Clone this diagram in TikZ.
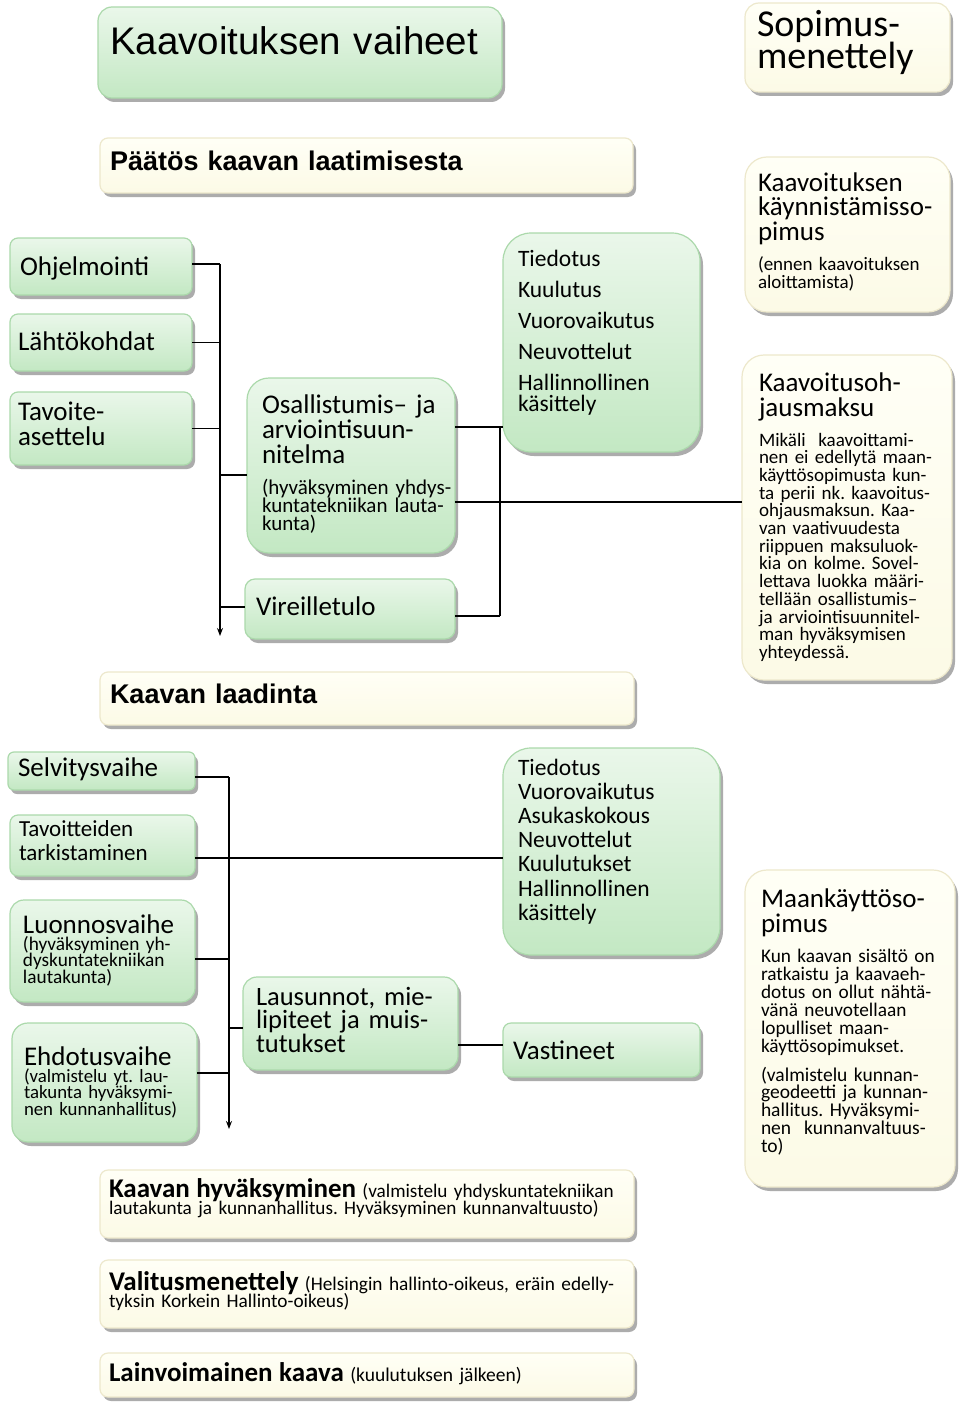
\documentclass[tikz,border=0pt]{standalone}
\usepackage{fontspec}
\setmainfont{Carlito}
\newfontfamily\arialf{Liberation Sans}
\usetikzlibrary{shadows,arrows.meta}
\frenchspacing
\definecolor{gtop}{HTML}{EAF7EA}
\definecolor{gbot}{HTML}{C3E8C3}
\definecolor{gbrd}{HTML}{ABD9AB}
\definecolor{ctop}{HTML}{FFFFF6}
\definecolor{cbot}{HTML}{FCFAE6}
\definecolor{cbrd}{HTML}{EDE8CC}
\definecolor{shd}{HTML}{8A8A8A}
\newcommand\fs[2]{\fontsize{#1}{#2}\selectfont}
\newcommand\bx[7]{\node[#1, rounded corners=#7, anchor=north west, minimum width={#5pt-#3pt}, minimum height={#6pt-#4pt}] (#2) at (#3,#4) {};}
\tikzset{
 boxbase/.style={inner sep=0pt, outer sep=0pt, line width=1.2pt, drop shadow={shadow xshift=3pt, shadow yshift=-4pt, fill=shd, opacity=0.7}},
 gbox/.style={boxbase, draw=gbrd, top color=gtop, bottom color=gbot},
 cbox/.style={boxbase, draw=cbrd, top color=ctop, bottom color=cbot},
 txt/.style={inner sep=0pt, outer sep=0pt, anchor=base west, text width=600pt,
   execute at begin node={\frenchspacing\lineskiplimit=-100pt\lineskip=0pt}},
 ln/.style={line width=1.5pt, draw=black},
 arr/.style={ln, -{Stealth[length=8pt,width=6pt]}},
}
\begin{document}
\begin{tikzpicture}[x=1pt,y=-1pt]
\useasboundingbox[fill=white] (0,0) rectangle (960,1407);
% ---------- boxes ----------
\bx{gbox}{title}{98}{7}{502}{98}{14pt}
\bx{cbox}{sopim}{745}{3}{950}{92}{14pt}
\bx{cbox}{paatos}{100}{138}{633}{193}{8pt}
\bx{cbox}{kaynn}{745}{157}{950}{312}{22pt}
\bx{gbox}{ohj}{10}{238}{192}{295}{8pt}
\bx{gbox}{lahto}{10}{314}{192}{371}{8pt}
\bx{gbox}{tavoite}{10}{392}{192}{465}{8pt}
\bx{gbox}{tied1}{503}{233}{700}{452}{28pt}
\bx{gbox}{osall}{247}{378}{455}{553}{22pt}
\bx{gbox}{vir}{245}{579}{455}{639}{10pt}
\bx{cbox}{maksu}{742}{355}{952}{680}{22pt}
\bx{cbox}{laadinta}{100}{672}{634}{725}{8pt}
\bx{gbox}{selv}{8}{752}{195}{790}{6pt}
\bx{gbox}{tavt}{10}{815}{195}{876}{8pt}
\bx{gbox}{luon}{10}{900}{195}{1002}{14pt}
\bx{gbox}{ehd}{12}{1023}{197}{1142}{16pt}
\bx{gbox}{tied2}{503}{748}{720}{955}{28pt}
\bx{gbox}{laus}{243}{977}{458}{1070}{14pt}
\bx{gbox}{vast}{503}{1023}{700}{1077}{8pt}
\bx{cbox}{maank}{745}{870}{955}{1187}{22pt}
\bx{cbox}{hyv}{100}{1170}{634}{1238}{8pt}
\bx{cbox}{valit}{100}{1260}{634}{1328}{8pt}
\bx{cbox}{lainv}{100}{1353}{634}{1397}{8pt}
% ---------- texts ----------
\node[txt, font={\arialf\fs{38.5}{44}}] (t-title) at (110,55) {Kaavoituksen vaiheet};
\node[txt, font={\fs{38}{32}}] (t-sopim) at (757,37) {Sopimus-\\menettely};
\node[txt, font={\arialf\bfseries\fs{27}{30}}] (t-paatos) at (110,171) {Päätös kaavan laatimisesta};
\node[txt, font={\fs{27}{24.5}}] (t-kaynn) at (758,191) {Kaavoituksen\\käynnistämisso-\\pimus};
\node[txt, font={\fs{19}{18}}] (t-kaynn2) at (758,270) {(ennen kaavoituksen\\aloittamista)};
\node[txt, font={\fs{27}{26}}] (t-ohj) at (20,275) {Ohjelmointi};
\node[txt, font={\fs{27}{26}}] (t-lahto) at (18,350) {Lähtökohdat};
\node[txt, font={\fs{27}{25}}] (t-tavoite) at (18,420) {Tavoite-\\asettelu};
\node[txt, font={\fs{23.5}{21}}] (t-tied1) at (518,266) {Tiedotus\\[10pt]Kuulutus\\[10pt]Vuorovaikutus\\[10pt]Neuvottelut\\[10pt]Hallinnollinen\\käsittely};
\node[txt, font={\fs{27}{25}}] (t-osall) at (262,413) {Osallistumis– ja\\arviointisuun-\\nitelma};
\node[txt, font={\fs{21}{18}}] (t-osall2) at (262,494) {(hyväksyminen yhdys-\\kuntatekniikan lauta-\\kunta)};
\node[txt, font={\fs{27}{26}}] (t-vir) at (256,615) {Vireilletulo};
\node[txt, font={\fs{27}{25}}] (t-maksu) at (759,391) {Kaavoitusoh-\\jausmaksu};
\node[txt, font={\fs{19}{17.7}}] (t-maksu2) at (759,446) {Mikäli\ \ kaavoittami-\\nen ei edellytä maan-\\käyttösopimusta kun-\\ta perii nk. kaavoitus-\\ohjausmaksun. Kaa-\\van vaativuudesta\\riippuen maksuluok-\\kia on kolme. Sovel-\\lettava luokka määri-\\tellään osallistumis–\\ja arviointisuunnitel-\\man hyväksymisen\\yhteydessä.};
\node[txt, font={\arialf\bfseries\fs{27}{30}}] (t-laadinta) at (110,703) {Kaavan laadinta};
\node[txt, font={\fs{27}{25}}] (t-selv) at (18,776) {Selvitysvaihe};
\node[txt, font={\fs{23}{24}}] (t-tavt) at (19,836) {Tavoitteiden\\tarkistaminen};
\node[txt, font={\fs{27}{26}}] (t-luon) at (23,933) {Luonnosvaihe};
\node[txt, font={\fs{19.3}{16.5}}] (t-luon2) at (23,950) {(hyväksyminen yh-\\dyskuntatekniikan\\lautakunta)};
\node[txt, font={\fs{27}{26}}] (t-ehd) at (24,1065) {Ehdotusvaihe};
\node[txt, font={\fs{18.8}{16.5}}] (t-ehd2) at (24,1082) {(valmistelu yt. lau-\\takunta hyväksymi-\\nen kunnanhallitus)};
\node[txt, font={\fs{23.5}{24.2}}] (t-tied2) at (518,775) {Tiedotus\\Vuorovaikutus\\Asukaskokous\\Neuvottelut\\Kuulutukset\\Hallinnollinen\\käsittely};
\node[txt, font={\fs{26.5}{23.5}}] (t-laus) at (256,1005) {Lausunnot, mie-\\lipiteet ja muis-\\tutukset};
\node[txt, font={\fs{27}{26}}] (t-vast) at (513,1059) {Vastineet};
\node[txt, font={\fs{27}{25}}] (t-maank) at (761,907) {Maankäyttöso-\\pimus};
\node[txt, font={\fs{19.3}{18}}] (t-maank2) at (761,962) {Kun kaavan sisältö on\\ratkaistu ja kaavaeh-\\dotus on ollut nähtä-\\vänä neuvotellaan\\lopulliset maan-\\käyttösopimukset.};
\node[txt, font={\fs{19.5}{17.8}}] (t-maank3) at (761,1081) {(valmistelu kunnan-\\geodeetti ja kunnan-\\hallitus. Hyväksymi-\\nen\ \ kunnanvaltuus-\\to)};
\node[txt, font={\fs{19.2}{17.5}}] (t-hyv) at (109,1197) {{\bfseries\fs{27}{17.5}Kaavan hyväksyminen} (valmistelu yhdyskuntatekniikan\\lautakunta ja kunnanhallitus. Hyväksyminen kunnanvaltuusto)};
\node[txt, font={\fs{19.3}{17.5}}] (t-valit) at (109,1290) {{\bfseries\fs{27}{17.5}Valitusmenettely} (Helsingin hallinto-oikeus, eräin edelly-\\tyksin Korkein Hallinto-oikeus)};
\node[txt, font={\fs{19.5}{17.5}}] (t-lainv) at (109,1381) {{\bfseries\fs{27}{17.5}Lainvoimainen kaava} (kuulutuksen jälkeen)};
% ---------- connectors ----------
\coordinate (busA) at (220,264);
\coordinate (busAend) at (220,636);
\draw[ln] (ohj.east |- busA) -- (busA);
\draw[ln] (lahto.east) -- (lahto.east -| busA);
\draw[ln] (tavoite.east) -- (tavoite.east -| busA);
\draw[arr] (busA) -- (busAend);
\coordinate (osIn) at (220,475);
\draw[ln] (osIn) -- (osall.west |- osIn);
\coordinate (virIn) at (220,607);
\draw[ln] (virIn) -- (vir.west |- virIn);
\coordinate (busB) at (500,427);
\coordinate (busBend) at (500,616);
\draw[ln] (osall.east |- busB) -- (tied1.west |- busB);
\draw[ln] (busB) -- (busBend);
\draw[ln] (vir.east |- busBend) -- (busBend);
\coordinate (mkIn) at (455,502);
\draw[ln] (osall.east |- mkIn) -- (maksu.west |- mkIn);
\coordinate (busC) at (229,777);
\coordinate (busCend) at (229,1129);
\draw[ln] (selv.east |- busC) -- (busC);
\draw[arr] (busC) -- (busCend);
\coordinate (tvIn) at (229,858);
\draw[ln] (tavt.east |- tvIn) -- (tied2.west |- tvIn);
\coordinate (lnIn) at (229,959);
\draw[ln] (luon.east |- lnIn) -- (lnIn);
\coordinate (ehIn) at (229,1073);
\draw[ln] (ehd.east |- ehIn) -- (ehIn);
\coordinate (laIn) at (229,1028);
\draw[ln] (laIn) -- (laus.west |- laIn);
\coordinate (vaIn) at (480,1045);
\draw[ln] (laus.east |- vaIn) -- (vast.west |- vaIn);
\end{tikzpicture}
\end{document}
